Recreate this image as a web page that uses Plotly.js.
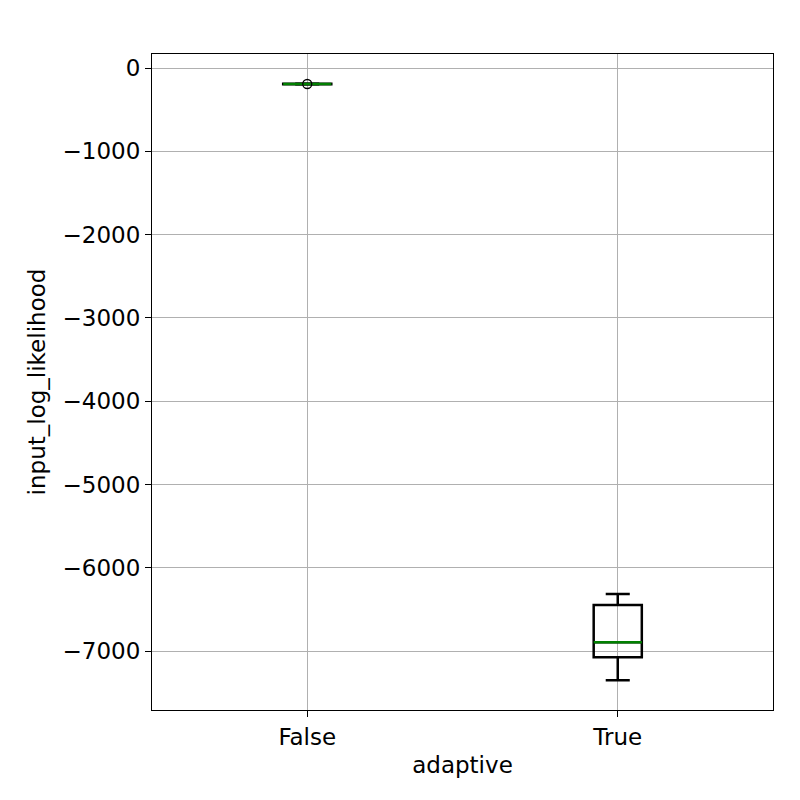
<!DOCTYPE html><html><head><script src="https://cdn.plot.ly/plotly-3.0.1.min.js"></script></head><body style="margin:0">
<div id="c" style="width:800px;height:800px"></div>
<script>
const categories=["False","True"];
const q1=[-195,-7072];
const median=[-192,-6892];
const q3=[-189,-6447];
const lowerfence=[-198,-7348];
const upperfence=[-186,-6315];
const outlierX=["False"];
const outlierY=[-192];
const traces=[{type:"box",x:categories,q1:q1,median:median,q3:q3,lowerfence:lowerfence,upperfence:upperfence,
 width:0.155,whiskerwidth:0.5,fillcolor:"rgba(0,0,0,0)",line:{color:"black",width:2.5},hoverinfo:"none"},
 {type:"box",x:categories,q1:median,median:median,q3:median,lowerfence:median,upperfence:median,width:0.155,
 fillcolor:"rgba(0,0,0,0)",line:{color:"green",width:2.5},hoverinfo:"none"},
 {type:"scatter",mode:"markers",x:outlierX,y:outlierY,marker:{symbol:"circle-open",size:9,color:"black",line:{width:1.3}}}];
const ax={showline:true,mirror:true,linecolor:"black",linewidth:1,gridcolor:"#b0b0b0",ticks:"outside",ticklen:6,tickcolor:"black",zeroline:false,tickfont:{size:23,color:"black"}};
Plotly.newPlot("c",traces,{width:800,height:800,showlegend:false,plot_bgcolor:"white",
 margin:{l:152,r:27,t:54,b:90},font:{family:"DejaVu Sans",color:"black"},
 xaxis:Object.assign({},ax,{title:{text:"adaptive",font:{size:23},standoff:8},type:"category",range:[-0.5,1.5]}),
 yaxis:Object.assign({},ax,{title:{text:"input_log_likelihood",font:{size:23},standoff:10},range:[-7706,168],tickvals:[0,-1000,-2000,-3000,-4000,-5000,-6000,-7000],ticktext:["0","−1000","−2000","−3000","−4000","−5000","−6000","−7000"]})},{displayModeBar:false});
</script></body></html>
